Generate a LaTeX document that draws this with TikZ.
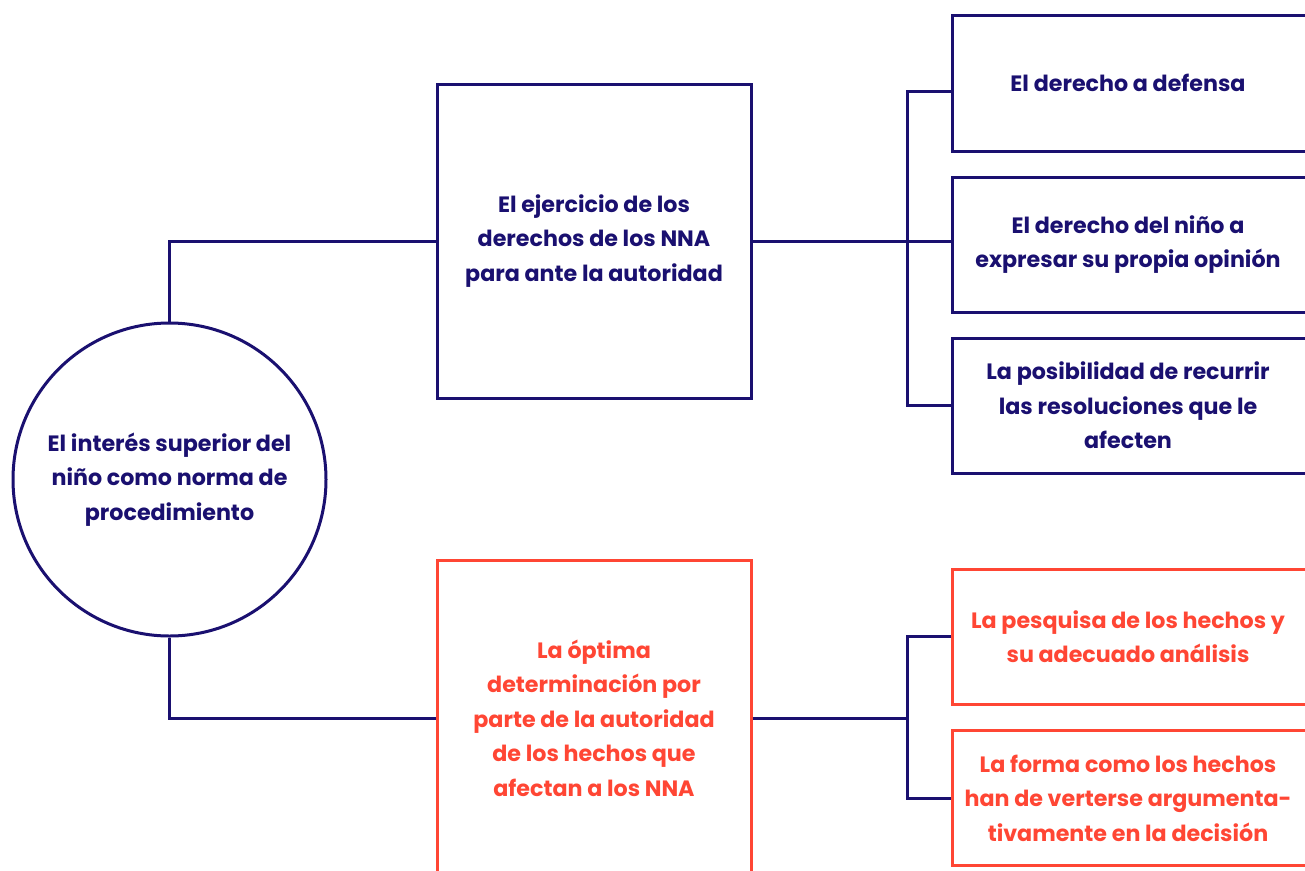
\documentclass[tikz,border=0pt]{standalone}
\usepackage{fontspec}
\setmainfont{Poppins}
\usetikzlibrary{calc}
\definecolor{navy}{HTML}{1A1070}
\definecolor{coral}{HTML}{FF4634}
\begin{document}
\begin{tikzpicture}[x=1pt,y=-1pt,
  every node/.style={font=\fontsize{22.2}{34.5}\selectfont\bfseries, align=center, line width=3pt, inner sep=0pt},
  navybox/.style={draw=navy, text=navy, rectangle},
  coralbox/.style={draw=coral, text=coral, rectangle},
  navytxt/.style={text=navy},
  coraltxt/.style={text=coral},
  link/.style={draw=navy, line width=3pt}]
\useasboundingbox (0,0) rectangle (1305,870);
\fill[white] (0,0) rectangle (1305,870);
\node[draw=navy, text=navy, circle, minimum size=313pt] (c) at (169.5,479.5) {El interés superior del\\niño como norma de\\procedimiento};
\node[navybox, minimum width=314pt, minimum height=314pt] (b1) at (594,241) {El ejercicio de los\\derechos de los NNA\\para ante la autoridad};
\node[coralbox, minimum width=314pt, minimum height=316pt] (b2) at (594,718) {La óptima\\determinación por\\parte de la autoridad\\de los hechos que\\afectan a los NNA};
\node[navybox, minimum width=380pt, minimum height=136pt] (bA) at (1142.5,83) {};
\node[navybox, minimum width=380pt, minimum height=135pt] (bB) at (1142.5,244.5) {};
\node[navybox, minimum width=380pt, minimum height=135pt] (bC) at (1142.5,405.5) {};
\node[coralbox, minimum width=380pt, minimum height=135pt] (bD) at (1142.5,636.5) {};
\node[coralbox, minimum width=380pt, minimum height=135pt] (bE) at (1142.5,798) {};
\node[navytxt] (tA) at (1128,83) {El derecho a defensa};
\node[navytxt] (tB) at (1128,244.5) {El derecho del niño a\\expresar su propia opinión};
\node[navytxt] (tC) at (1128,405.5) {La posibilidad de recurrir\\las resoluciones que le\\afecten};
\node[coraltxt] (tD) at (1128,636.5) {La pesquisa de los hechos y\\su adecuado análisis};
\node[coraltxt] (tE) at (1128,798) {La forma como los hechos\\han de verterse argumenta-\\tivamente en la decisión};
\coordinate (j1) at (907,241);
\coordinate (j2) at (907,718);
\draw[link] (c.north) |- (b1.west);
\draw[link] (c.south) |- (b2.west);
\draw[link] (b1.east) -- (b1.east -| bB.west);
\draw[link] ([yshift=-8pt]bA.west) -| (j1) |- (bC.west);
\draw[link] (b2.east) -- (j2);
\draw[link] (bD.west) -| (j2) |- (bE.west);
\end{tikzpicture}
\end{document}
